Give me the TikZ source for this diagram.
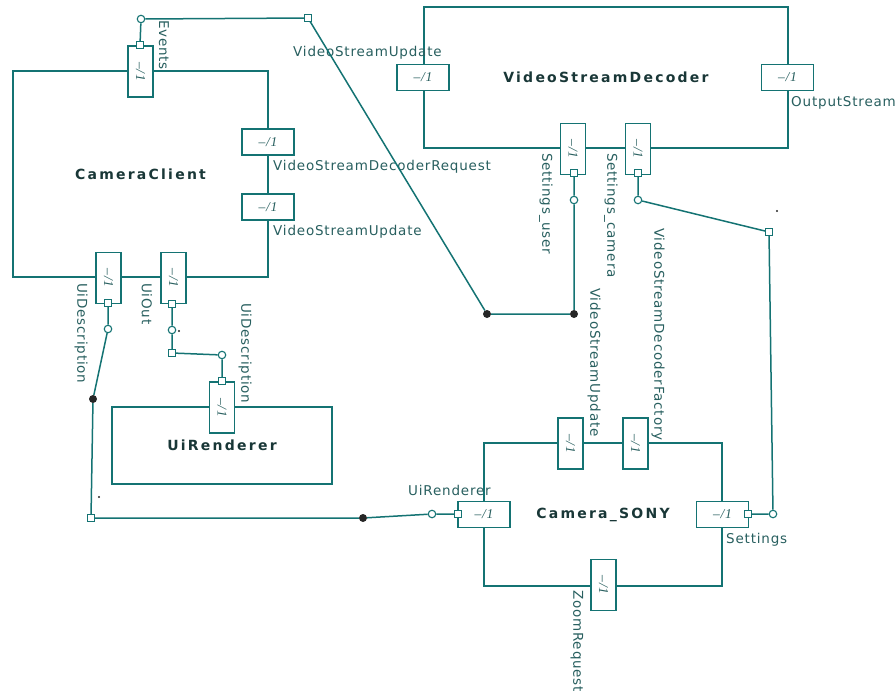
\documentclass[tikz,border=0pt]{standalone}
\usepackage{fontspec}
\setmainfont{DejaVu Sans}
\newfontfamily\lblfont[LetterSpace=6]{DejaVu Sans}
\newfontfamily\titlefont[LetterSpace=16]{DejaVu Sans Bold}
\newfontfamily\portfont[LetterSpace=6]{Liberation Serif}
\definecolor{lc}{RGB}{20,115,115}
\definecolor{tc}{RGB}{40,95,95}
\definecolor{ttc}{RGB}{25,55,55}
\tikzset{
  box/.style={draw=lc, line width=1.5pt, inner sep=0, text=ttc,
    font=\titlefont\fontsize{14}{15}\selectfont},
  hport/.style={draw=lc, fill=white, line width=1.5pt, inner sep=0,
    minimum width=52pt, minimum height=26pt, text=tc,
    font=\portfont\itshape\fontsize{13.5}{14}\selectfont},
  vport/.style={hport, rotate=-90, minimum width=51pt, minimum height=25pt},
  sqr/.style={draw=lc, fill=white, line width=1.1pt, minimum size=6.5pt, inner sep=0},
  circ/.style={circle, draw=lc, fill=white, line width=1.1pt, minimum size=7.5pt, inner sep=0},
  fdot/.style={circle, fill=black!85, minimum size=8pt, inner sep=0},
  tiny/.style={circle, fill=black!85, minimum size=2.2pt, inner sep=0},
  lbl/.style={inner sep=0, text=tc, font=\lblfont\fontsize{13.5}{14}\selectfont},
  hlbl/.style={lbl, anchor=west},
  vlbl/.style={lbl, rotate=-90, anchor=west},
  conn/.style={draw=lc, line width=1.5pt}
}
\begin{document}
\begin{tikzpicture}[x=1pt,y=-1pt]
\useasboundingbox (0,0) rectangle (896,691);
% components
\node[box, minimum width=255pt, minimum height=206pt] (cc) at (140.5,174) {CameraClient};
\node[box, minimum width=364pt, minimum height=141pt] (vsd) at (606,77.5) {VideoStreamDecoder};
\node[box, minimum width=220pt, minimum height=77pt] (uir) at (222,445.5) {UiRenderer};
\node[box, minimum width=238pt, minimum height=143pt] (sony) at (603,514.5) {Camera\_SONY};
% ports
\node[vport] (pev) at (140.5,71.5) {–/1};
\node[hport] (pvdr) at (268,142) {–/1};
\node[hport] (pvsu) at (268,207) {–/1};
\node[vport] (puid) at (108.5,278) {–/1};
\node[vport] (puio) at (173.5,278) {–/1};
\node[vport] (puirin) at (222,407.5) {–/1};
\node[hport] (pdvsu) at (423,77.5) {–/1};
\node[hport] (pout) at (787.5,77.5) {–/1};
\node[vport] (psu) at (573,149) {–/1};
\node[vport] (psc) at (638,149) {–/1};
\node[vport] (psvsu) at (570.5,443.5) {–/1};
\node[vport] (psvdf) at (635.5,443.5) {–/1};
\node[hport] (psuir) at (484,514.5) {–/1};
\node[hport] (psset) at (722.5,514.5) {–/1};
\node[vport] (pszoom) at (603.5,585) {–/1};
% labels
\node[vlbl] (lev) at (164,20) {Events};
\node[hlbl] (lvdr) at (273,167) {VideoStreamDecoderRequest};
\node[hlbl] (lvsu) at (273,232) {VideoStreamUpdate};
\node[vlbl] (luid) at (81,283) {UiDescription};
\node[vlbl] (luio) at (147,283) {UiOut};
\node[vlbl] (luid2) at (245,303) {UiDescription};
\node[hlbl] (ldvsu) at (293,53) {VideoStreamUpdate};
\node[hlbl] (lout) at (791,103) {OutputStream};
\node[vlbl] (lsu) at (546,153) {Settings\_user};
\node[vlbl] (lsc) at (611,153) {Settings\_camera};
\node[vlbl] (lsvsu) at (594,288) {VideoStreamUpdate};
\node[vlbl] (lsvdf) at (658,228) {VideoStreamDecoderFactory};
\node[hlbl] (lsuir) at (408,490) {UiRenderer};
\node[hlbl] (lsset) at (726,540) {Settings};
\node[vlbl] (lszoom) at (577,590) {ZoomRequest};
% connector ends
\node[sqr] (sqev) at (140,45) {};
\node[circ] (cev) at (141,19) {};
\node[sqr] (sqev2) at (308,18) {};
\node[fdot] (d1) at (487,314) {};
\node[fdot] (d2) at (574,314) {};
\node[circ] (csu) at (574,200) {};
\node[sqr] (sqsu) at (574,173) {};
\node[sqr] (sqsc) at (638,173) {};
\node[circ] (csc) at (638,200) {};
\node[sqr] (sqsc2) at (769,232) {};
\node[circ] (cset) at (773,514) {};
\node[sqr] (sqsset) at (748,514) {};
\node[sqr] (squid) at (108,303) {};
\node[circ] (cuid) at (108,329) {};
\node[fdot] (d3) at (93,399) {};
\node[sqr] (squid2) at (91,518) {};
\node[fdot] (d4) at (363,518) {};
\node[circ] (csuir) at (432,514) {};
\node[sqr] (sqsuir) at (458,514) {};
\node[sqr] (squio) at (172,304) {};
\node[circ] (cuio) at (172,330) {};
\node[sqr] (squio2) at (172,353) {};
\node[circ] (cuir) at (222,355) {};
\node[sqr] (squir) at (222,381) {};
\node[tiny] (t1) at (99,497) {};
\node[tiny] (t2) at (777,211) {};
\node[tiny] (t3) at (179,331) {};
% connectors
\draw[conn] (sqev) -- (cev) -- (sqev2) -- (d1) -- (d2) -- (csu) -- (sqsu);
\draw[conn] (squid) -- (cuid) -- (d3) -- (squid2) -- (d4) -- (csuir) -- (sqsuir);
\draw[conn] (squio) -- (cuio) -- (squio2) -- (cuir) -- (squir);
\draw[conn] (sqsc) -- (csc) -- (sqsc2) -- (cset) -- (sqsset);
\end{tikzpicture}
\end{document}
